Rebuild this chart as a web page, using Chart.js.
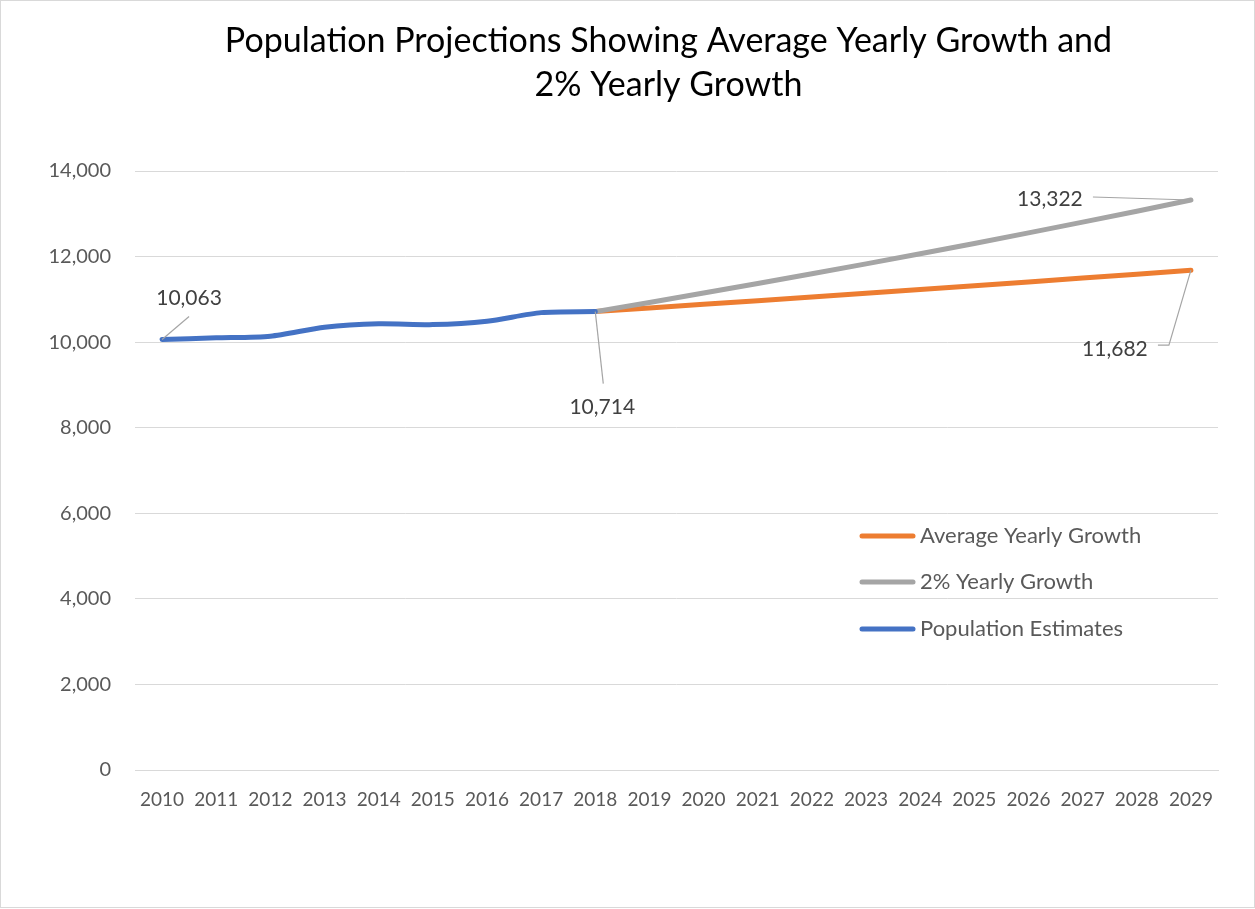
<!DOCTYPE html>
<html>
<head>
<meta charset="utf-8">
<script src="https://cdn.jsdelivr.net/npm/chart.js@4/dist/chart.umd.min.js"></script>
<style>
  html, body { margin: 0; padding: 0; background: #fff; }
  #wrap { width: 1255px; height: 909px; }
</style>
</head>
<body>
<div id="wrap"><canvas id="myChart" width="1255" height="909"></canvas></div>
<script>
// years on the x axis
var years = ['2010', '2011', '2012', '2013', '2014', '2015', '2016', '2017', '2018', '2019',
             '2020', '2021', '2022', '2023', '2024', '2025', '2026', '2027', '2028', '2029'];

// population estimates (2010-2018)
var estimates = [10063, 10100, 10140, 10350, 10430, 10410, 10490, 10690, 10714,
                 null, null, null, null, null, null, null, null, null, null, null];

// projection at the average yearly growth rate
var avgGrowth = [null, null, null, null, null, null, null, null, 10714, 10799,
                 10884, 10970, 11056, 11143, 11231, 11319, 11408, 11498, 11589, 11682];

// projection at 2% per year
var twoPctGrowth = [null, null, null, null, null, null, null, null, 10714, 10928,
                    11147, 11370, 11597, 11829, 12066, 12307, 12553, 12804, 13060, 13322];

var yTicks = [0, 2000, 4000, 6000, 8000, 10000, 12000, 14000];

var titleLines = ['Population Projections Showing Average Yearly Growth and', '2% Yearly Growth'];

var FONT = 'Lato, "Open Sans", sans-serif';
var blue = '#4472C4', orange = '#ED7D31', grey = '#A5A5A5';

// labels with leader lines: dataset index, point index, label offset, leader path offsets
var callouts = [
    { ds: 2, i: 0,  dx: 27,  dy: -41, path: [[0, 0], [27, -23]] },
    { ds: 2, i: 8,  dx: 7,   dy: 96,  path: [[0, 0], [8, 72]] },
    { ds: 1, i: 19, dx: -141, dy: -1, path: [[0, 0], [-98, -3]] },
    { ds: 0, i: 19, dx: -76, dy: 79,  path: [[0, 0], [-22, 75], [-33, 75]] }
];

var extras = {
    id: 'extras',
    beforeDraw: function(chart) {
        var c = chart.ctx;
        c.save();
        c.fillStyle = '#fff';
        c.fillRect(0, 0, chart.width, chart.height);
        c.restore();
    },
    afterDraw: function(chart) {
        var c = chart.ctx;
        var area = chart.chartArea;
        c.save();

        // title
        c.fillStyle = '#000';
        c.font = '34px ' + FONT;
        c.textAlign = 'center';
        c.textBaseline = 'alphabetic';
        var cx = (area.left + area.right) / 2 - 8;
        c.fillText(titleLines[0], cx, 52);
        c.fillText(titleLines[1], cx, 96);

        // callouts
        c.font = '21px ' + FONT;
        c.textBaseline = 'middle';
        callouts.forEach(function(co) {
            var pt = chart.getDatasetMeta(co.ds).data[co.i];
            var v = chart.data.datasets[co.ds].data[co.i];
            c.strokeStyle = '#A5A5A5';
            c.lineWidth = 1.2;
            c.beginPath();
            co.path.forEach(function(p, k) {
                if (k === 0) c.moveTo(pt.x + p[0], pt.y + p[1]);
                else c.lineTo(pt.x + p[0], pt.y + p[1]);
            });
            c.stroke();
            c.fillStyle = '#404040';
            c.fillText(v.toLocaleString('en-US'), pt.x + co.dx, pt.y + co.dy);
        });

        // legend inside the plot
        var items = [[0, 536], [1, 582], [2, 629]];
        c.textAlign = 'left';
        c.font = '22px ' + FONT;
        items.forEach(function(it) {
            var ds = chart.data.datasets[it[0]];
            c.strokeStyle = ds.borderColor;
            c.lineWidth = 5;
            c.lineCap = 'round';
            c.beginPath();
            c.moveTo(862, it[1]);
            c.lineTo(913, it[1]);
            c.stroke();
            c.fillStyle = '#595959';
            c.fillText(ds.label, 920, it[1]);
        });

        // outer border
        c.strokeStyle = '#D9D9D9';
        c.lineWidth = 1;
        c.strokeRect(0.5, 0.5, chart.width - 1, chart.height - 2);
        c.restore();
    }
};

var ctx = document.getElementById('myChart').getContext('2d');
var myChart = new Chart(ctx, {
    type: 'line',
    data: {
        labels: years,
        datasets: [
            { label: 'Average Yearly Growth', data: avgGrowth, borderColor: orange, order: 2 },
            { label: '2% Yearly Growth', data: twoPctGrowth, borderColor: grey, order: 1 },
            { label: 'Population Estimates', data: estimates, borderColor: blue, order: 0, tension: 0.25 }
        ]
    },
    options: {
        responsive: false,
        animation: false,
        layout: { padding: { top: 171, right: 37, bottom: 0, left: 0 } },
        elements: {
            line: { borderWidth: 5, borderCapStyle: 'round', borderJoinStyle: 'round', fill: false },
            point: { radius: 0, hoverRadius: 0 }
        },
        plugins: {
            legend: { display: false },
            title: { display: false },
            tooltip: { enabled: false }
        },
        scales: {
            x: {
                offset: true,
                grid: { display: false, drawTicks: false },
                border: { display: true, color: '#D9D9D9', width: 1 },
                ticks: { color: '#595959', font: { family: FONT, size: 19 }, padding: 18, maxRotation: 0, autoSkip: false },
                afterFit: function(s) { s.height = 909 - 770; }
            },
            y: {
                min: 0,
                max: 14000,
                afterBuildTicks: function(s) { s.ticks = yTicks.map(function(v) { return { value: v }; }); },
                grid: { color: '#D9D9D9', lineWidth: 1, drawTicks: false },
                border: { display: false },
                ticks: {
                    color: '#595959',
                    font: { family: FONT, size: 20 },
                    padding: 24,
                    callback: function(v) { return v.toLocaleString('en-US'); }
                },
                afterFit: function(s) { s.width = 135; }
            }
        }
    },
    plugins: [extras]
});
</script>
</body>
</html>
